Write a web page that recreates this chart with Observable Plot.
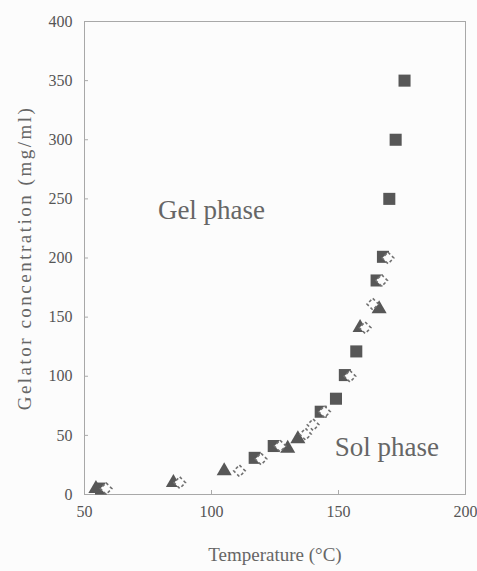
<!DOCTYPE html>
<html>
<head>
<meta charset="utf-8">
<script src="https://cdn.jsdelivr.net/npm/d3@7"></script>
<script src="https://cdn.jsdelivr.net/npm/@observablehq/plot@0.6"></script>
<style>
  html, body { margin: 0; padding: 0; background: #fcfcfc; }
  #chart { width: 477px; height: 571px; }
</style>
</head>
<body>
<div id="chart"></div>
<script>
// Filled squares
const squareT = [56.5, 117, 124.5, 143, 149, 152.5, 157, 165, 167.5, 170, 172.5, 176];
const squareC = [5, 31, 41, 70, 81, 101, 121, 181, 201, 250, 300, 350];
// Filled triangles
const triangleT = [54.5, 85, 105, 130, 134, 158.5, 166];
const triangleC = [5, 10, 20, 39, 47, 141, 157];
// Open diamonds
const diamondT = [58.5, 87.5, 111, 119.5, 127, 137, 140, 144.5, 154.5, 160.5, 163.5, 167, 169.5];
const diamondC = [5, 10, 20, 30, 41, 51, 59, 70, 100, 141, 161, 181, 200];

const xTicks = [50, 100, 150, 200];
const yTicks = [0, 50, 100, 150, 200, 250, 300, 350, 400];
const xInnerTicks = [100, 150];
const yInnerTicks = [50, 100, 150, 200, 250, 300, 350];

const phaseLabels = ["Gel phase", "Sol phase"];
const phaseT = [100, 169];
const phaseC = [240, 40];

const xTitle = "Temperature (°C)";
const yTitle = "Gelator concentration (mg/ml)";

const toRows = (xs, ys) => xs.map((x, i) => ({x, y: ys[i]}));
const squares = toRows(squareT, squareC);
const triangles = toRows(triangleT, triangleC);
const diamonds = toRows(diamondT, diamondC);
const phases = phaseLabels.map((t, i) => ({t, x: phaseT[i], y: phaseC[i]}));

const markColor = "#575757";

const chart = Plot.plot({
  width: 477,
  height: 571,
  marginLeft: 84,
  marginRight: 12,
  marginTop: 21,
  marginBottom: 77,
  style: {fontFamily: "'Liberation Serif', 'Times New Roman', serif", background: "#fcfcfc", overflow: "visible"},
  x: {domain: [50, 200]},
  y: {domain: [0, 400]},
  marks: [
    Plot.frame({stroke: "#a8a8a8"}),
    Plot.axisY({ticks: yTicks, tickSize: 0, tickPadding: 12, fontSize: 16, fill: "#555", label: null}),
    Plot.axisY({ticks: yInnerTicks, tickSize: 4, dx: 4, tickFormat: () => "", stroke: "#aaa", label: null}),
    Plot.axisX({ticks: xTicks, tickSize: 0, tickPadding: 11, fontSize: 16, fill: "#555", label: null}),
    Plot.axisX({ticks: xInnerTicks, tickSize: 4, dy: -4, tickFormat: () => "", stroke: "#aaa", label: null}),
    Plot.text([yTitle], {frameAnchor: "left", textAnchor: "middle", dx: -60, rotate: -90, fontSize: 19, fill: "#666"}),
    Plot.text([xTitle], {frameAnchor: "bottom", dy: 66, fontSize: 19, fill: "#666"}),
    Plot.text(phases, {x: "x", y: "y", text: "t", fontSize: 27, fill: "#666"}),
    Plot.dot(squares, {x: "x", y: "y", symbol: "square", r: 6.8, fill: markColor, stroke: "none"}),
    Plot.dot(triangles, {x: "x", y: "y", symbol: "triangle", r: 5.6, fill: markColor, stroke: "none"}),
    Plot.dot(diamonds, {x: "x", y: "y", symbol: "diamond2", r: 5.2, fill: "#fcfcfc", stroke: "#707070", strokeWidth: 1.6, strokeDasharray: "3,2.5"})
  ]
});
chart.querySelectorAll("g[aria-label='text'] text").forEach(t => {
  if (t.textContent === yTitle) t.setAttribute("letter-spacing", "2.5");
});
document.getElementById("chart").appendChild(chart);
</script>
</body>
</html>
